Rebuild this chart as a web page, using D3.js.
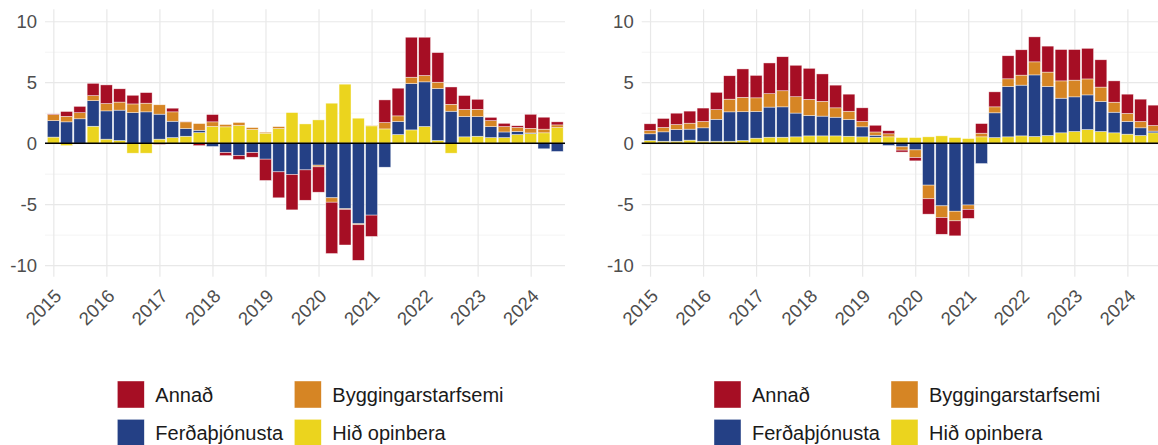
<!DOCTYPE html>
<html>
<head>
<meta charset="utf-8">
<script src="https://cdn.jsdelivr.net/npm/d3@7"></script>
<style>
  body { margin: 0; background: #fff; }
  svg { display: block; font-family: "Liberation Sans", Arial, sans-serif; }
</style>
</head>
<body>
<div id="chart"></div>
<script>
// categories: quarters 2015Q1 - 2024Q3
var quarters = [
  "2015Q1","2015Q2","2015Q3","2015Q4","2016Q1","2016Q2","2016Q3","2016Q4",
  "2017Q1","2017Q2","2017Q3","2017Q4","2018Q1","2018Q2","2018Q3","2018Q4",
  "2019Q1","2019Q2","2019Q3","2019Q4","2020Q1","2020Q2","2020Q3","2020Q4",
  "2021Q1","2021Q2","2021Q3","2021Q4","2022Q1","2022Q2","2022Q3","2022Q4",
  "2023Q1","2023Q2","2023Q3","2023Q4","2024Q1","2024Q2","2024Q3"
];

var seriesNames = ["Annað", "Byggingarstarfsemi", "Ferðaþjónusta", "Hið opinbera"];
var seriesColors = ["#a60e24", "#d68524", "#244085", "#ebd41e"];

var yearTicks = [2015, 2016, 2017, 2018, 2019, 2020, 2021, 2022, 2023, 2024];
var yTicks = [-10, -5, 0, 5, 10];
var yMinorTicks = [-7.5, -2.5, 2.5, 7.5];

// left panel
var leftAnnad = [0.05,0.4,0.52,1.01,1.53,1.09,0.71,0.87,-0.1,0.3,0.03,-0.2,0.6,-0.25,-0.33,-0.38,
  -1.75,-2.13,-2.9,-2.49,-2.08,-4.21,-2.92,-2.92,-1.75,1.86,2.27,3.28,3.14,2.43,1.42,1.15,
  0.82,0.27,0.27,0.14,1.15,0.98,0.25];
var leftBygg = [0.5,0.45,0.5,0.41,0.6,0.66,0.71,0.71,0.77,0.77,0.55,0.55,0.38,0.19,0.25,0.16,
  0.08,0.16,0.0,0.0,-0.14,-0.36,-0.05,-0.08,0.05,0.52,0.46,0.52,0.52,0.52,0.57,0.57,
  0.6,0.49,0.44,0.33,0.38,0.3,0.22];
var leftFerd = [1.35,1.75,2.0,2.1,2.32,2.49,2.51,2.57,2.05,1.34,0.63,0.19,-0.27,-0.77,-1.01,-0.77,
  -1.31,-2.35,-2.57,-2.19,-1.8,-4.48,-5.38,-6.61,-5.9,-1.97,1.07,3.8,3.66,4.26,2.62,1.67,
  1.61,0.9,0.46,0.25,0.05,-0.46,-0.68];
var leftHid = [0.5,-0.2,0.0,1.39,0.33,0.22,-0.82,-0.82,0.33,0.46,0.57,0.87,1.37,1.34,1.45,1.12,
  0.82,1.2,2.51,1.58,1.91,3.28,4.84,2.05,1.42,1.17,0.71,1.09,1.37,0.22,-0.82,0.52,
  0.57,0.46,0.46,0.71,0.79,0.85,1.28];

// right panel
var rightAnnad = [0.55,0.74,0.93,0.99,1.1,1.42,1.92,2.33,1.84,2.52,2.79,2.58,2.55,2.25,1.86,1.4,
  1.12,0.55,0.25,-0.16,-0.27,-1.26,-1.37,-1.23,-0.74,0.79,1.23,1.89,2.08,2.05,2.13,2.57,
  2.51,2.51,2.24,1.75,1.58,1.83,1.67];
var rightBygg = [0.27,0.36,0.41,0.49,0.52,0.79,1.04,1.18,1.12,1.1,1.32,1.34,1.32,1.21,0.77,0.68,
  0.44,0.27,0.25,-0.27,-0.63,-1.12,-0.96,-0.79,-0.36,0.3,0.49,0.63,0.82,1.07,1.18,1.42,
  1.37,1.31,1.18,0.82,0.66,0.52,0.46];
var rightFerd = [0.55,0.77,0.96,0.9,1.1,1.8,2.41,2.36,2.19,2.47,2.49,1.95,1.67,1.62,1.53,1.37,
  0.82,0.16,-0.19,-0.3,-0.55,-3.44,-5.14,-5.58,-5.07,-1.67,2.03,4.13,4.16,5.05,4.02,2.84,
  2.84,2.84,2.46,1.69,1.04,0.63,0.14];
var rightHid = [0.22,0.16,0.16,0.25,0.16,0.16,0.16,0.22,0.41,0.49,0.49,0.52,0.6,0.6,0.6,0.57,
  0.52,0.49,0.52,0.46,0.46,0.52,0.6,0.46,0.38,0.52,0.46,0.52,0.6,0.55,0.63,0.85,
  0.96,1.12,0.96,0.85,0.74,0.63,0.85];

// set the dimensions of the page and the panels
var width = 1158, height = 445;
var panelWidth = 520, panelTop = 9.3, panelBottom = 276.7;

var svg = d3.select("#chart")
  .append("svg")
    .attr("width", width)
    .attr("height", height);

function buildRows(annad, bygg, ferd, hid) {
  return quarters.map(function(q, i) {
    return {
      t: +q.slice(0, 4) + (+q.slice(5) - 1) / 4,
      "Annað": annad[i],
      "Byggingarstarfsemi": bygg[i],
      "Ferðaþjónusta": ferd[i],
      "Hið opinbera": hid[i]
    };
  });
}

var panels = [
  { left: 45, rows: buildRows(leftAnnad, leftBygg, leftFerd, leftHid), legendX: 117.3 },
  { left: 641.7, rows: buildRows(rightAnnad, rightBygg, rightFerd, rightHid), legendX: 714 }
];

var color = d3.scaleOrdinal().domain(seriesNames).range(seriesColors);

// stack order: Hið opinbera closest to zero, Annað outermost
var stack = d3.stack()
  .keys(["Hið opinbera", "Ferðaþjónusta", "Byggingarstarfsemi", "Annað"])
  .offset(d3.stackOffsetDiverging);

panels.forEach(function(p) {
  var x = d3.scaleLinear()
    .domain([2014.843, 2024.647])
    .range([p.left, p.left + panelWidth]);
  var y = d3.scaleLinear()
    .domain([-10.95, 10.98])
    .range([panelBottom, panelTop]);

  var g = svg.append("g");

  // minor grid
  g.append("g")
    .attr("transform", "translate(" + p.left + ",0)")
    .call(d3.axisLeft(y).tickValues(yMinorTicks).tickSize(-panelWidth).tickFormat(""))
    .call(function(a) { a.select(".domain").remove(); })
    .selectAll("line").attr("stroke", "#f3f3f3").attr("stroke-width", 0.9);

  // major grid
  g.append("g")
    .attr("transform", "translate(" + p.left + ",0)")
    .call(d3.axisLeft(y).tickValues(yTicks).tickSize(-panelWidth).tickFormat(""))
    .call(function(a) { a.select(".domain").remove(); })
    .selectAll("line").attr("stroke", "#e8e8e8").attr("stroke-width", 1.2);

  g.append("g")
    .attr("transform", "translate(0," + panelBottom + ")")
    .call(d3.axisBottom(x).tickValues(yearTicks).tickSize(-(panelBottom - panelTop)).tickFormat(""))
    .call(function(a) { a.select(".domain").remove(); })
    .selectAll("line").attr("stroke", "#e8e8e8").attr("stroke-width", 1.2);

  // Bars
  var bw = (x(2015.25) - x(2015)) * 0.9;
  g.selectAll("g.layer")
    .data(stack(p.rows))
    .enter()
    .append("g")
      .attr("class", "layer")
      .attr("fill", function(d) { return color(d.key); })
    .selectAll("rect")
    .data(function(d) { return d; })
    .enter()
    .append("rect")
      .attr("x", function(d) { return x(d.data.t) - bw / 2; })
      .attr("y", function(d) { return y(Math.max(d[0], d[1])); })
      .attr("width", bw)
      .attr("height", function(d) { return Math.abs(y(d[0]) - y(d[1])); })
      .attr("stroke", "#ffffff")
      .attr("stroke-opacity", 0.7)
      .attr("stroke-width", 0.6);

  // zero line
  g.append("line")
    .attr("x1", p.left).attr("x2", p.left + panelWidth)
    .attr("y1", y(0)).attr("y2", y(0))
    .attr("stroke", "#000")
    .attr("stroke-width", 1.6);

  // Y axis labels (plain hyphen for negatives)
  g.append("g")
    .attr("transform", "translate(" + p.left + ",0)")
    .call(d3.axisLeft(y).tickValues(yTicks).tickSize(0).tickPadding(8)
      .tickFormat(function(d) { return String(d); }))
    .call(function(a) { a.select(".domain").remove(); })
    .selectAll("text")
      .attr("font-family", "'Liberation Sans', Arial, sans-serif")
      .style("font-size", "18.5px")
      .attr("fill", "#4d4d4d");

  // X axis labels, rotated
  g.selectAll("text.year")
    .data(yearTicks)
    .enter()
    .append("text")
      .attr("class", "year")
      .attr("transform", function(d) { return "translate(" + x(d) + ",288)rotate(-45)"; })
      .attr("dy", "0.71em")
      .attr("text-anchor", "end")
      .style("font-size", "18.5px")
      .attr("fill", "#4d4d4d")
      .text(function(d) { return d; });

  // legend
  var legend = g.selectAll("g.legend")
    .data(seriesNames)
    .enter()
    .append("g")
      .attr("class", "legend")
      .attr("transform", function(d, i) {
        return "translate(" + (p.legendX + (i % 2) * 177) + "," + (381 + Math.floor(i / 2) * 38.3) + ")";
      });
  legend.append("rect")
    .attr("width", 27).attr("height", 27)
    .attr("fill", function(d) { return color(d); })
    .attr("stroke", "#ffffff").attr("stroke-opacity", 0.7).attr("stroke-width", 0.6);
  legend.append("text")
    .attr("x", 38)
    .attr("y", 13.5)
    .attr("dy", "0.35em")
    .style("font-size", "20px")
    .attr("fill", "#1a1a1a")
    .text(function(d) { return d; });
});
</script>
</body>
</html>
